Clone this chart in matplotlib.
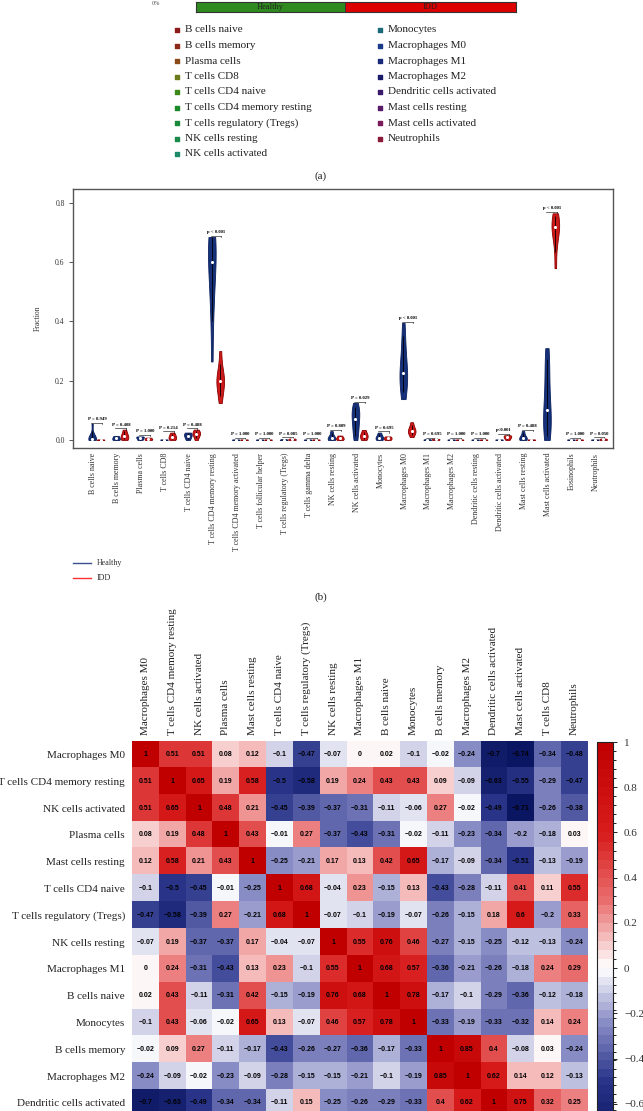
import numpy as np
import matplotlib
matplotlib.use("Agg")
import matplotlib.pyplot as plt
from matplotlib.colors import LinearSegmentedColormap, ListedColormap, BoundaryNorm, Normalize

W, H = 643, 1111
SERIF = "Liberation Serif"
SANS = "Liberation Sans"

# ---- panel (a): group strip + legend ----
groups = ["Healthy", "IDD"]
group_n = [7, 8]
group_colors = ["#2f8a1f", "#dd0000"]

legend_cells = ["B cells naive", "B cells memory", "Plasma cells", "T cells CD8", "T cells CD4 naive",
                "T cells CD4 memory resting", "T cells regulatory (Tregs)", "NK cells resting",
                "NK cells activated", "Monocytes", "Macrophages M0", "Macrophages M1", "Macrophages M2",
                "Dendritic cells activated", "Mast cells resting", "Mast cells activated", "Neutrophils"]
legend_colors = ["#8b1a1a", "#8b2a1a", "#8b4a1a", "#6b7a1a", "#3a8a1a", "#1a8a2a", "#1a8a3a",
                 "#1a8a4a", "#1a8a6a", "#1a6a7a", "#1a3a8a", "#1a2a7a", "#1a1a6a", "#3a1a6a",
                 "#5a1a6a", "#7a1a5a", "#8a1a3a"]

# ---- panel (b): violins ----
cells = ["B cells naive", "B cells memory", "Plasma cells", "T cells CD8", "T cells CD4 naive",
         "T cells CD4 memory resting", "T cells CD4 memory activated", "T cells follicular helper",
         "T cells regulatory (Tregs)", "T cells gamma delta", "NK cells resting", "NK cells activated",
         "Monocytes", "Macrophages M0", "Macrophages M1", "Macrophages M2", "Dendritic cells resting",
         "Dendritic cells activated", "Mast cells resting", "Mast cells activated", "Eosinophils",
         "Neutrophils"]
tiny = [0.0, 0.001, 0.002]
healthy_vals = [
    [0.0, 0.0, 0.002, 0.004, 0.006, 0.01, 0.02, 0.055],
    [0.0, 0.002, 0.006, 0.01, 0.014],
    [0.0, 0.003, 0.008, 0.01, 0.012],
    tiny,
    [0.0, 0.008, 0.012, 0.018, 0.022, 0.025],
    [0.265, 0.4, 0.48, 0.53, 0.56, 0.6, 0.63, 0.66, 0.68, 0.685, 0.685],
    tiny, tiny,
    [0.0, 0.001, 0.003],
    tiny,
    [0.0, 0.003, 0.006, 0.012, 0.03],
    [0.0, 0.015, 0.035, 0.05, 0.065, 0.08, 0.09, 0.1, 0.11, 0.125],
    [0.0, 0.004, 0.008, 0.014, 0.025],
    [0.138, 0.17, 0.2, 0.215, 0.225, 0.25, 0.29, 0.34, 0.395],
    [0.0, 0.001, 0.003],
    tiny, tiny, tiny,
    [0.0, 0.003, 0.006, 0.012, 0.03],
    [0.0, 0.01, 0.03, 0.05, 0.07, 0.085, 0.1, 0.13, 0.17, 0.21, 0.25, 0.28, 0.31],
    tiny, tiny,
]
idd_vals = [
    tiny,
    [0.0, 0.006, 0.012, 0.02, 0.035],
    [0.0, 0.002, 0.005, 0.008],
    [0.0, 0.005, 0.01, 0.016, 0.025],
    [0.0, 0.012, 0.02, 0.022, 0.028, 0.035],
    [0.125, 0.16, 0.185, 0.2, 0.2, 0.215, 0.24, 0.3],
    tiny, tiny,
    [0.0, 0.002, 0.005],
    tiny,
    [0.0, 0.004, 0.008, 0.015],
    [0.0, 0.008, 0.015, 0.02, 0.034],
    [0.0, 0.004, 0.008, 0.012],
    [0.01, 0.022, 0.028, 0.03, 0.035, 0.045, 0.06],
    [0.0, 0.002, 0.004],
    tiny, tiny,
    [0.0, 0.006, 0.01, 0.014, 0.016],
    tiny,
    [0.58, 0.66, 0.7, 0.715, 0.72, 0.73, 0.75, 0.765],
    tiny,
    [0.0, 0.002, 0.005],
]
p_labels = ["P = 0.949", "P = 0.408", "P = 1.000", "P = 0.214", "P = 0.488", "p < 0.001",
            "P = 1.000", "P = 1.000", "P = 0.085", "P = 1.000", "P = 0.809", "P = 0.029",
            "P = 0.695", "p < 0.001", "P = 0.695", "P = 1.000", "P = 1.000", "p<0.001",
            "P = 0.488", "p < 0.001", "P = 1.000", "P = 0.050"]

# ---- panel (c): correlation heatmap ----
hm_cols = ["Macrophages M0", "T cells CD4 memory resting", "NK cells activated", "Plasma cells",
           "Mast cells resting", "T cells CD4 naive", "T cells regulatory (Tregs)", "NK cells resting",
           "Macrophages M1", "B cells naive", "Monocytes", "B cells memory", "Macrophages M2",
           "Dendritic cells activated", "Mast cells activated", "T cells CD8", "Neutrophils"]
hm_rows = hm_cols[:14]
corr = [
    [1, 0.51, 0.51, 0.08, 0.12, -0.1, -0.47, -0.07, 0, 0.02, -0.1, -0.02, -0.24, -0.7, -0.74, -0.34, -0.48],
    [0.51, 1, 0.65, 0.19, 0.58, -0.5, -0.58, 0.19, 0.24, 0.43, 0.43, 0.09, -0.09, -0.63, -0.55, -0.29, -0.47],
    [0.51, 0.65, 1, 0.48, 0.21, -0.45, -0.39, -0.37, -0.31, -0.11, -0.06, 0.27, -0.02, -0.49, -0.71, -0.26, -0.38],
    [0.08, 0.19, 0.48, 1, 0.43, -0.01, 0.27, -0.37, -0.43, -0.31, -0.02, -0.11, -0.23, -0.34, -0.2, -0.18, 0.03],
    [0.12, 0.58, 0.21, 0.43, 1, -0.25, -0.21, 0.17, 0.13, 0.42, 0.65, -0.17, -0.09, -0.34, -0.51, -0.13, -0.19],
    [-0.1, -0.5, -0.45, -0.01, -0.25, 1, 0.68, -0.04, 0.23, -0.15, 0.13, -0.43, -0.28, -0.11, 0.41, 0.11, 0.55],
    [-0.47, -0.58, -0.39, 0.27, -0.21, 0.68, 1, -0.07, -0.1, -0.19, -0.07, -0.26, -0.15, 0.18, 0.6, -0.2, 0.33],
    [-0.07, 0.19, -0.37, -0.37, 0.17, -0.04, -0.07, 1, 0.55, 0.76, 0.46, -0.27, -0.15, -0.25, -0.12, -0.13, -0.24],
    [0, 0.24, -0.31, -0.43, 0.13, 0.23, -0.1, 0.55, 1, 0.68, 0.57, -0.36, -0.21, -0.26, -0.18, 0.24, 0.29],
    [0.02, 0.43, -0.11, -0.31, 0.42, -0.15, -0.19, 0.76, 0.68, 1, 0.78, -0.17, -0.1, -0.29, -0.36, -0.12, -0.18],
    [-0.1, 0.43, -0.06, -0.02, 0.65, 0.13, -0.07, 0.46, 0.57, 0.78, 1, -0.33, -0.19, -0.33, -0.32, 0.14, 0.24],
    [-0.02, 0.09, 0.27, -0.11, -0.17, -0.43, -0.26, -0.27, -0.36, -0.17, -0.33, 1, 0.85, 0.4, -0.08, 0.03, -0.24],
    [-0.24, -0.09, -0.02, -0.23, -0.09, -0.28, -0.15, -0.15, -0.21, -0.1, -0.19, 0.85, 1, 0.62, 0.14, 0.12, -0.13],
    [-0.7, -0.63, -0.49, -0.34, -0.34, -0.11, 0.15, -0.25, -0.26, -0.29, -0.33, 0.4, 0.62, 1, 0.75, 0.32, 0.25],
]
cbar_ticks = [-0.6, -0.4, -0.2, 0, 0.2, 0.4, 0.6, 0.8, 1]


def px_box(l, t, r, b):
    return [l / W, 1 - b / H, (r - l) / W, (b - t) / H]


fig = plt.figure(figsize=(W / 100, H / 100), dpi=100)

# overlay for legends / panel letters (pixel coordinates)
ov = fig.add_axes([0, 0, 1, 1])
ov.set_xlim(0, W)
ov.set_ylim(H, 0)
ov.axis("off")

# panel (a) strip
ax_a = fig.add_axes(px_box(196, 2, 516, 12))
left = 0
for g, n, c in zip(groups, group_n, group_colors):
    ax_a.barh(0, n, left=left, height=1, color=c, edgecolor="#333333", linewidth=0.6)
    ax_a.text(left + n / 2, 0, g, ha="center", va="center", fontsize=6, family=SERIF, color="#222222")
    left += n
ax_a.set_xlim(0, sum(group_n))
ax_a.set_ylim(-0.5, 0.5)
ax_a.set_xticks([])
ax_a.set_yticks([])
for s in ax_a.spines.values():
    s.set_linewidth(0.8)
    s.set_color("#333333")
ov.text(156, 1, "0%", ha="center", va="top", fontsize=4.5, family=SERIF, color="#555555")

nrow = 9
for i, (lab, c) in enumerate(zip(legend_cells, legend_colors)):
    col, row = divmod(i, nrow)
    x = 177 + col * 203
    y = 30 + row * 15.5
    ov.scatter([x], [y], marker="s", s=5, color=c)
    ov.text(x + 8, y, lab, ha="left", va="center", fontsize=8, family=SERIF, color="#222222")
ov.text(321, 176, "(a)", ha="center", va="center", fontsize=8, family=SERIF, color="#222222")

# panel (b) violins
ax_b = fig.add_axes(px_box(73, 189, 613, 448))
pos = np.arange(len(cells))
h_pos = pos - 0.05
i_pos = pos + 0.3
for vals, p, fc, ec in [(healthy_vals, h_pos, "#16307a", "#0a1f5c"), (idd_vals, i_pos, "#cc1a1a", "#8b0000")]:
    parts = ax_b.violinplot(vals, positions=p, widths=0.32, showextrema=False)
    for b in parts["bodies"]:
        b.set_facecolor(fc)
        b.set_edgecolor(ec)
        b.set_linewidth(0.6)
        b.set_alpha(1)
    lo = [np.percentile(v, 10) for v in vals]
    hi = [np.percentile(v, 90) for v in vals]
    ax_b.vlines(p, lo, hi, color="black", linewidth=0.6, zorder=3)
    ax_b.scatter(p, [np.median(v) for v in vals], s=5, color="white", zorder=4, linewidths=0)

for k in range(len(cells)):
    top = max(max(healthy_vals[k]), max(idd_vals[k])) + 0.004
    ax_b.plot([h_pos[k] - 0.05, i_pos[k] + 0.05], [top, top], color="black", linewidth=0.4)
    ax_b.plot([i_pos[k] + 0.05, i_pos[k] + 0.05], [top, top - 0.004], color="black", linewidth=0.4)
    ax_b.text(pos[k] + 0.15, top + 0.006, p_labels[k], ha="center", va="bottom", fontsize=3.4,
              family=SERIF, fontweight="bold")

ax_b.set_xlim(-0.85, 21.71)
ax_b.set_ylim(-0.027, 0.847)
ax_b.set_yticks([0, 0.2, 0.4, 0.6, 0.8], ["0.0", "0.2", "0.4", "0.6", "0.8"])
ax_b.set_xticks(pos, cells, rotation=90)
ax_b.tick_params(axis="x", length=0, pad=3.5, labelsize=5.8, labelcolor="#333333")
ax_b.tick_params(axis="y", length=3, width=0.7, pad=3, labelsize=5.5, labelcolor="#333333", color="#555555")
for lab in ax_b.get_xticklabels() + ax_b.get_yticklabels():
    lab.set_family(SERIF)
for s in ax_b.spines.values():
    s.set_linewidth(1.0)
    s.set_color("#555555")
ax_b.set_ylabel("Fraction", fontsize=5.5, family=SERIF, color="#333333", labelpad=10)

for y, lab, c in [(563, "Healthy", "#3b4f8f"), (578, "IDD", "#ff3030")]:
    ov.plot([73, 91], [y, y], color=c, linewidth=1)
    ov.text(97, y, lab, ha="left", va="center", fontsize=5.8, family=SERIF, color="#333333")
ov.text(321, 597, "(b)", ha="center", va="center", fontsize=8, family=SERIF, color="#222222")

# panel (c) heatmap
mat = np.array(corr, dtype=float)
vmin, vmax = -0.74, 1.0
anchors = [(-0.74, "#0a1560"), (-0.5, "#2a358a"), (-0.25, "#8589c4"), (0.0, "#ffffff"),
           (0.3, "#ea6e6e"), (0.6, "#d81c1c"), (1.0, "#c00000")]
base = LinearSegmentedColormap.from_list(
    "rb", [((v - vmin) / (vmax - vmin), c) for v, c in anchors])
bounds = np.concatenate([np.linspace(vmin, 0, 21), np.linspace(0, vmax, 26)[1:]])
centers = (bounds[:-1] + bounds[1:]) / 2
cmap = ListedColormap([base(Normalize(vmin, vmax)(c)) for c in centers])
norm = BoundaryNorm(bounds, cmap.N)

cell = 26.8
ax_h = fig.add_axes(px_box(132, 741, 132 + 17 * cell, 741 + 14 * cell))
im = ax_h.imshow(mat, cmap=cmap, norm=norm, aspect="auto", interpolation="nearest")
for r in range(mat.shape[0]):
    for c in range(mat.shape[1]):
        v = mat[r, c]
        txt = f"{v:.2f}".rstrip("0").rstrip(".").replace("-", "\u2212")
        if txt in ("", "\u2212"):
            txt = "0"
        ax_h.text(c, r, txt, ha="center", va="center", fontsize=5, family=SANS,
                  fontweight="bold", color="black")
ax_h.xaxis.tick_top()
ax_h.set_xticks(range(len(hm_cols)), hm_cols, rotation=90)
ax_h.set_yticks(range(len(hm_rows)), hm_rows)
ax_h.tick_params(length=0, labelsize=8, labelcolor="#222222")
ax_h.tick_params(axis="x", pad=4.5)
ax_h.tick_params(axis="y", pad=5)
for lab in ax_h.get_xticklabels() + ax_h.get_yticklabels():
    lab.set_family(SERIF)
for s in ax_h.spines.values():
    s.set_visible(False)

cax = fig.add_axes(px_box(597, 742, 613, 742 + (vmax - vmin) * 226.2))
cb = fig.colorbar(im, cax=cax, spacing="proportional", ticks=cbar_ticks)
cb.set_ticklabels(["\u22120.6", "\u22120.4", "\u22120.2", "0", "0.2", "0.4", "0.6", "0.8", "1"])
cb.outline.set_linewidth(0.8)
cb.outline.set_edgecolor("#222222")
cax.tick_params(length=3, width=0.6, pad=5, labelsize=8, labelcolor="#333333")
for lab in cax.get_yticklabels():
    lab.set_family(SERIF)

fig.savefig("out.png", dpi=100)
